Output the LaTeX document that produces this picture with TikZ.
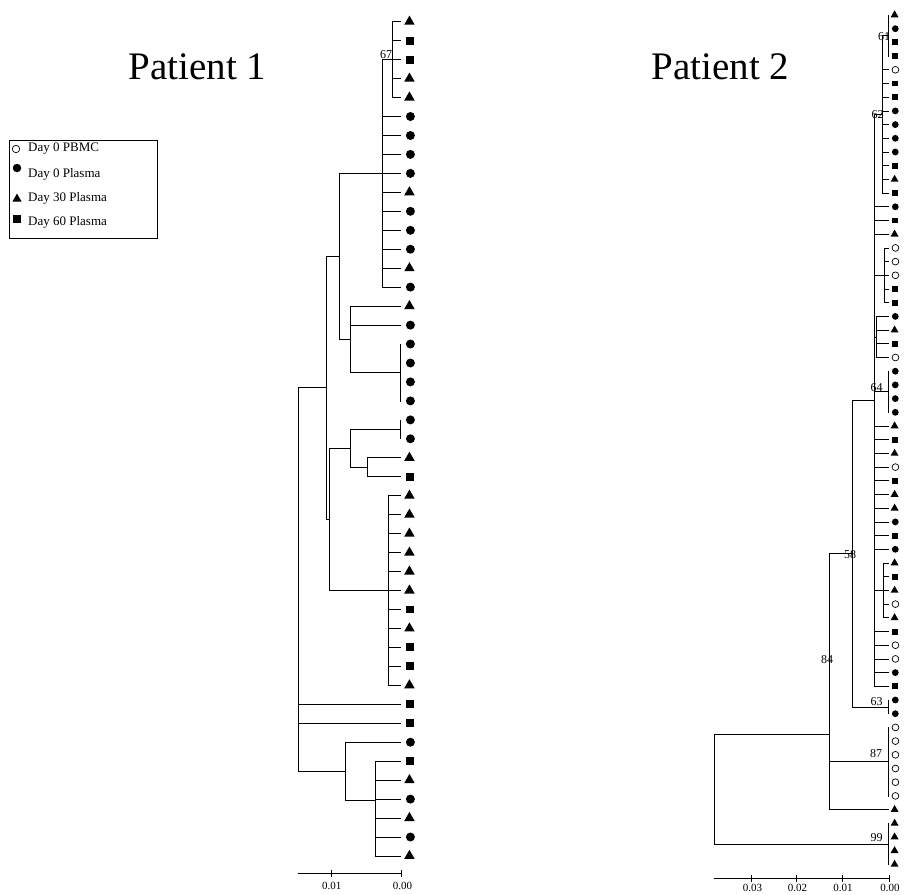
\documentclass[tikz,border=0pt]{standalone}
\usepackage{fontspec}
\setmainfont{Liberation Serif}
\usetikzlibrary{shapes.geometric}

\begin{document}
\begin{tikzpicture}
[every node/.style={inner sep=0pt},
 branch/.style={line width=0.75pt, color=black},
 pbmc/.style={circle, minimum size=#1, fill=white, line width=0.7pt, draw=black},
 day0/.style={circle, minimum size=#1, fill=black},
 day30/.style={regular polygon, regular polygon sides=3, minimum size=1.35*#1, fill=black},
 day60/.style={rectangle, minimum size=0.88*#1, fill=black},
 leafA/.style={label={[#1=9pt, label distance=3.5pt]right:}},
 leafB/.style={label={[#1=6.8pt, label distance=1.5pt]right:}},
 boot/.style={font=\fontsize{12pt}{12pt}\selectfont},
 title/.style={anchor=base, font=\fontsize{39pt}{39pt}\selectfont},
 keytext/.style={anchor=west, font=\fontsize{13pt}{13pt}\selectfont},
 scaletext/.style={font=\fontsize{11pt}{11pt}\selectfont}]
\path [use as bounding box, fill=white] (0pt, 0pt) rectangle (906pt, -895pt);
\node (title1) [title] at (197.5pt, -79pt) {Patient 1};
\node (title2) [title] at (720.5pt, -79pt) {Patient 2};
\node (key) [draw=black, line width=0.7pt, minimum width=148pt, minimum height=98pt] at (83pt, -189pt) {};
\node (k1) [pbmc=7.5pt] at (16pt, -149pt) {};
\node (k2) [day0=8.5pt] at (17pt, -168pt) {};
\node (k3) [day30=8pt] at (17pt, -199pt) {};
\node (k4) [day60=8.5pt] at (17pt, -219pt) {};
\node (w1) [keytext] at (28pt, -149pt) {Day 0 PBMC};
\node (w2) [keytext] at (28pt, -174pt) {Day 0 Plasma};
\node (w3) [keytext] at (28pt, -198pt) {Day 30 Plasma};
\node (w4) [keytext] at (28pt, -222pt) {Day 60 Plasma};
\node (a1) [leafA=day30] at (401.5pt, -21.7pt) {};
\node (a2) [leafA=day60] at (401.5pt, -40.7pt) {};
\node (a3) [leafA=day60] at (401.5pt, -59.6pt) {};
\node (a4) [leafA=day30] at (401.5pt, -78.6pt) {};
\node (a5) [leafA=day30] at (401.5pt, -97.5pt) {};
\node (a6) [leafA=day0] at (401.5pt, -116.5pt) {};
\node (a7) [leafA=day0] at (401.5pt, -135.5pt) {};
\node (a8) [leafA=day0] at (401.5pt, -154.4pt) {};
\node (a9) [leafA=day0] at (401.5pt, -173.4pt) {};
\node (a10) [leafA=day30] at (401.5pt, -192.3pt) {};
\node (a11) [leafA=day0] at (401.5pt, -211.3pt) {};
\node (a12) [leafA=day0] at (401.5pt, -230.3pt) {};
\node (a13) [leafA=day0] at (401.5pt, -249.2pt) {};
\node (a14) [leafA=day30] at (401.5pt, -268.2pt) {};
\node (a15) [leafA=day0] at (401.5pt, -287.1pt) {};
\node (a16) [leafA=day30] at (401.5pt, -306.1pt) {};
\node (a17) [leafA=day0] at (401.5pt, -325.1pt) {};
\node (a18) [leafA=day0] at (401.5pt, -344.0pt) {};
\node (a19) [leafA=day0] at (401.5pt, -363.0pt) {};
\node (a20) [leafA=day0] at (401.5pt, -381.9pt) {};
\node (a21) [leafA=day0] at (401.5pt, -400.9pt) {};
\node (a22) [leafA=day0] at (401.5pt, -419.9pt) {};
\node (a23) [leafA=day0] at (401.5pt, -438.8pt) {};
\node (a24) [leafA=day30] at (401.5pt, -457.8pt) {};
\node (a25) [leafA=day60] at (401.5pt, -476.7pt) {};
\node (a26) [leafA=day30] at (401.5pt, -495.7pt) {};
\node (a27) [leafA=day30] at (401.5pt, -514.7pt) {};
\node (a28) [leafA=day30] at (401.5pt, -533.6pt) {};
\node (a29) [leafA=day30] at (401.5pt, -552.6pt) {};
\node (a30) [leafA=day30] at (401.5pt, -571.5pt) {};
\node (a31) [leafA=day30] at (401.5pt, -590.5pt) {};
\node (a32) [leafA=day60] at (401.5pt, -609.5pt) {};
\node (a33) [leafA=day30] at (401.5pt, -628.4pt) {};
\node (a34) [leafA=day60] at (401.5pt, -647.4pt) {};
\node (a35) [leafA=day60] at (401.5pt, -666.3pt) {};
\node (a36) [leafA=day30] at (401.5pt, -685.3pt) {};
\node (a37) [leafA=day60] at (401.5pt, -704.3pt) {};
\node (a38) [leafA=day60] at (401.5pt, -723.2pt) {};
\node (a39) [leafA=day0] at (401.5pt, -742.2pt) {};
\node (a40) [leafA=day60] at (401.5pt, -761.1pt) {};
\node (a41) [leafA=day30] at (401.5pt, -780.1pt) {};
\node (a42) [leafA=day0] at (401.5pt, -799.1pt) {};
\node (a43) [leafA=day30] at (401.5pt, -818.0pt) {};
\node (a44) [leafA=day0] at (401.5pt, -837.0pt) {};
\node (a45) [leafA=day30] at (401.5pt, -855.9pt) {};
\coordinate (r1) at (298pt, -387.8pt);
\coordinate (u1) at (326pt, -387.8pt);
\coordinate (u2) at (339pt, -256.4pt);
\coordinate (u3) at (382pt, -173.4pt);
\coordinate (n67) at (392pt, -59.6pt);
\coordinate (u4) at (350.7pt, -339.3pt);
\coordinate (u5) at (400pt, -372.5pt);
\coordinate (u6) at (329pt, -519.4pt);
\coordinate (u7) at (350.7pt, -448.3pt);
\coordinate (u8) at (400pt, -429.4pt);
\coordinate (u9) at (367.7pt, -467.3pt);
\coordinate (u10) at (388.3pt, -590.5pt);
\coordinate (u11) at (345pt, -771.5pt);
\coordinate (u12) at (375pt, -800pt);
\draw [branch] (r1) |- (u1);
\draw [branch] (r1) |- (a37);
\draw [branch] (r1) |- (a38);
\draw [branch] (r1) |- (u11);
\draw [branch] (u1) |- (u2);
\draw [branch] (u1) |- (u6);
\draw [branch] (u2) |- (u3);
\draw [branch] (u2) |- (u4);
\draw [branch] (u3) |- (n67);
\draw [branch] (u3) |- (a6);
\draw [branch] (u3) |- (a7);
\draw [branch] (u3) |- (a8);
\draw [branch] (u3) |- (a9);
\draw [branch] (u3) |- (a10);
\draw [branch] (u3) |- (a11);
\draw [branch] (u3) |- (a12);
\draw [branch] (u3) |- (a13);
\draw [branch] (u3) |- (a14);
\draw [branch] (u3) |- (a15);
\draw [branch] (n67) |- (a1);
\draw [branch] (n67) |- (a2);
\draw [branch] (n67) |- (a3);
\draw [branch] (n67) |- (a4);
\draw [branch] (n67) |- (a5);
\draw [branch] (u4) |- (a16);
\draw [branch] (u4) |- (a17);
\draw [branch] (u4) |- (u5);
\draw [branch] (u5) |- (a18);
\draw [branch] (u5) |- (a19);
\draw [branch] (u5) |- (a20);
\draw [branch] (u5) |- (a21);
\draw [branch] (u6) |- (u7);
\draw [branch] (u6) |- (u10);
\draw [branch] (u7) |- (u8);
\draw [branch] (u7) |- (u9);
\draw [branch] (u8) |- (a22);
\draw [branch] (u8) |- (a23);
\draw [branch] (u9) |- (a24);
\draw [branch] (u9) |- (a25);
\draw [branch] (u10) |- (a26);
\draw [branch] (u10) |- (a27);
\draw [branch] (u10) |- (a28);
\draw [branch] (u10) |- (a29);
\draw [branch] (u10) |- (a30);
\draw [branch] (u10) |- (a31);
\draw [branch] (u10) |- (a32);
\draw [branch] (u10) |- (a33);
\draw [branch] (u10) |- (a34);
\draw [branch] (u10) |- (a35);
\draw [branch] (u10) |- (a36);
\draw [branch] (u11) |- (a39);
\draw [branch] (u11) |- (u12);
\draw [branch] (u12) |- (a40);
\draw [branch] (u12) |- (a41);
\draw [branch] (u12) |- (a42);
\draw [branch] (u12) |- (a43);
\draw [branch] (u12) |- (a44);
\draw [branch] (u12) |- (a45);
\node (t67) [boot] at (386pt, -55pt) {67};
\coordinate (sa0) at (298pt, -873pt);
\coordinate (sa1) at (331.7pt, -873pt);
\coordinate (sa2) at (401.5pt, -873pt);
\draw [branch] (sa0) -- (sa2);
\draw [branch] ([yshift=3.5pt]sa1) -- ([yshift=-3.5pt]sa1);
\draw [branch] ([yshift=3.5pt]sa2) -- ([yshift=-3.5pt]sa2);
\node (va1) [scaletext] at (331.7pt, -886pt) {0.01};
\node (va2) [scaletext] at (402.5pt, -886pt) {0.00};
\node (b1) [leafB=day30] at (889.5pt, -15.0pt) {};
\node (b2) [leafB=day0] at (889.5pt, -28.7pt) {};
\node (b3) [leafB=day60] at (889.5pt, -42.4pt) {};
\node (b4) [leafB=day60] at (889.5pt, -56.1pt) {};
\node (b5) [leafB=pbmc] at (889.5pt, -69.8pt) {};
\node (b6) [leafB=day60] at (889.5pt, -83.5pt) {};
\node (b7) [leafB=day60] at (889.5pt, -97.2pt) {};
\node (b8) [leafB=day0] at (889.5pt, -110.9pt) {};
\node (b9) [leafB=day0] at (889.5pt, -124.6pt) {};
\node (b10) [leafB=day0] at (889.5pt, -138.3pt) {};
\node (b11) [leafB=day0] at (889.5pt, -152.0pt) {};
\node (b12) [leafB=day60] at (889.5pt, -165.7pt) {};
\node (b13) [leafB=day30] at (889.5pt, -179.4pt) {};
\node (b14) [leafB=day60] at (889.5pt, -193.1pt) {};
\node (b15) [leafB=day0] at (889.5pt, -206.8pt) {};
\node (b16) [leafB=day60] at (889.5pt, -220.5pt) {};
\node (b17) [leafB=day30] at (889.5pt, -234.2pt) {};
\node (b18) [leafB=pbmc] at (889.5pt, -247.9pt) {};
\node (b19) [leafB=pbmc] at (889.5pt, -261.6pt) {};
\node (b20) [leafB=pbmc] at (889.5pt, -275.3pt) {};
\node (b21) [leafB=day60] at (889.5pt, -289.0pt) {};
\node (b22) [leafB=day60] at (889.5pt, -302.7pt) {};
\node (b23) [leafB=day0] at (889.5pt, -316.4pt) {};
\node (b24) [leafB=day30] at (889.5pt, -330.1pt) {};
\node (b25) [leafB=day60] at (889.5pt, -343.8pt) {};
\node (b26) [leafB=pbmc] at (889.5pt, -357.5pt) {};
\node (b27) [leafB=day0] at (889.5pt, -371.2pt) {};
\node (b28) [leafB=day0] at (889.5pt, -384.9pt) {};
\node (b29) [leafB=day0] at (889.5pt, -398.6pt) {};
\node (b30) [leafB=day0] at (889.5pt, -412.3pt) {};
\node (b31) [leafB=day30] at (889.5pt, -426.0pt) {};
\node (b32) [leafB=day60] at (889.5pt, -439.7pt) {};
\node (b33) [leafB=day30] at (889.5pt, -453.4pt) {};
\node (b34) [leafB=pbmc] at (889.5pt, -467.1pt) {};
\node (b35) [leafB=day60] at (889.5pt, -480.8pt) {};
\node (b36) [leafB=day30] at (889.5pt, -494.5pt) {};
\node (b37) [leafB=day30] at (889.5pt, -508.2pt) {};
\node (b38) [leafB=day0] at (889.5pt, -521.9pt) {};
\node (b39) [leafB=day60] at (889.5pt, -535.6pt) {};
\node (b40) [leafB=day0] at (889.5pt, -549.3pt) {};
\node (b41) [leafB=day30] at (889.5pt, -563.0pt) {};
\node (b42) [leafB=day60] at (889.5pt, -576.7pt) {};
\node (b43) [leafB=day30] at (889.5pt, -590.4pt) {};
\node (b44) [leafB=pbmc] at (889.5pt, -604.1pt) {};
\node (b45) [leafB=day30] at (889.5pt, -617.8pt) {};
\node (b46) [leafB=day60] at (889.5pt, -631.5pt) {};
\node (b47) [leafB=pbmc] at (889.5pt, -645.2pt) {};
\node (b48) [leafB=pbmc] at (889.5pt, -658.9pt) {};
\node (b49) [leafB=day0] at (889.5pt, -672.6pt) {};
\node (b50) [leafB=day60] at (889.5pt, -686.3pt) {};
\node (b51) [leafB=day0] at (889.5pt, -700.0pt) {};
\node (b52) [leafB=day0] at (889.5pt, -713.7pt) {};
\node (b53) [leafB=pbmc] at (889.5pt, -727.4pt) {};
\node (b54) [leafB=pbmc] at (889.5pt, -741.1pt) {};
\node (b55) [leafB=pbmc] at (889.5pt, -754.8pt) {};
\node (b56) [leafB=pbmc] at (889.5pt, -768.5pt) {};
\node (b57) [leafB=pbmc] at (889.5pt, -782.2pt) {};
\node (b58) [leafB=pbmc] at (889.5pt, -795.9pt) {};
\node (b59) [leafB=day30] at (889.5pt, -809.6pt) {};
\node (b60) [leafB=day30] at (889.5pt, -823.3pt) {};
\node (b61) [leafB=day30] at (889.5pt, -837.0pt) {};
\node (b62) [leafB=day30] at (889.5pt, -850.7pt) {};
\node (b63) [leafB=day30] at (889.5pt, -864.4pt) {};
\coordinate (r2) at (714pt, -734pt);
\coordinate (n84) at (829pt, -734pt);
\coordinate (n58) at (852pt, -553.6pt);
\coordinate (v4) at (874pt, -400.3pt);
\coordinate (n62) at (882.5pt, -114.3pt);
\coordinate (n61) at (888pt, -35.6pt);
\coordinate (v1) at (884pt, -275.3pt);
\coordinate (v2) at (876.5pt, -337pt);
\coordinate (n64) at (888pt, -391.8pt);
\coordinate (v3) at (883.7pt, -590.4pt);
\coordinate (n63) at (888pt, -706.9pt);
\coordinate (n87) at (888pt, -761.7pt);
\coordinate (n99) at (888pt, -843.9pt);
\draw [branch] (r2) |- (n84);
\draw [branch] (r2) |- (n99);
\draw [branch] (n84) |- (n58);
\draw [branch] (n84) |- (n87);
\draw [branch] (n84) |- (b59);
\draw [branch] (n58) |- (v4);
\draw [branch] (n58) |- (n63);
\draw [branch] (v4) |- (n62);
\draw [branch] (v4) |- (b15);
\draw [branch] (v4) |- (b16);
\draw [branch] (v4) |- (b17);
\draw [branch] (v4) |- (v1);
\draw [branch] (v4) |- (v2);
\draw [branch] (v4) |- (n64);
\draw [branch] (v4) |- (b31);
\draw [branch] (v4) |- (b32);
\draw [branch] (v4) |- (b33);
\draw [branch] (v4) |- (b34);
\draw [branch] (v4) |- (b35);
\draw [branch] (v4) |- (b36);
\draw [branch] (v4) |- (b37);
\draw [branch] (v4) |- (b38);
\draw [branch] (v4) |- (b39);
\draw [branch] (v4) |- (b40);
\draw [branch] (v4) |- (v3);
\draw [branch] (v4) |- (b46);
\draw [branch] (v4) |- (b47);
\draw [branch] (v4) |- (b48);
\draw [branch] (v4) |- (b49);
\draw [branch] (v4) |- (b50);
\draw [branch] (n62) |- (n61);
\draw [branch] (n62) |- (b5);
\draw [branch] (n62) |- (b6);
\draw [branch] (n62) |- (b7);
\draw [branch] (n62) |- (b8);
\draw [branch] (n62) |- (b9);
\draw [branch] (n62) |- (b10);
\draw [branch] (n62) |- (b11);
\draw [branch] (n62) |- (b12);
\draw [branch] (n62) |- (b13);
\draw [branch] (n62) |- (b14);
\draw [branch] (n61) |- (b1);
\draw [branch] (n61) |- (b2);
\draw [branch] (n61) |- (b3);
\draw [branch] (n61) |- (b4);
\draw [branch] (v1) |- (b18);
\draw [branch] (v1) |- (b19);
\draw [branch] (v1) |- (b20);
\draw [branch] (v1) |- (b21);
\draw [branch] (v1) |- (b22);
\draw [branch] (v2) |- (b23);
\draw [branch] (v2) |- (b24);
\draw [branch] (v2) |- (b25);
\draw [branch] (v2) |- (b26);
\draw [branch] (n64) |- (b27);
\draw [branch] (n64) |- (b28);
\draw [branch] (n64) |- (b29);
\draw [branch] (n64) |- (b30);
\draw [branch] (v3) |- (b41);
\draw [branch] (v3) |- (b42);
\draw [branch] (v3) |- (b43);
\draw [branch] (v3) |- (b44);
\draw [branch] (v3) |- (b45);
\draw [branch] (n63) |- (b51);
\draw [branch] (n63) |- (b52);
\draw [branch] (n87) |- (b53);
\draw [branch] (n87) |- (b54);
\draw [branch] (n87) |- (b55);
\draw [branch] (n87) |- (b56);
\draw [branch] (n87) |- (b57);
\draw [branch] (n87) |- (b58);
\draw [branch] (n99) |- (b60);
\draw [branch] (n99) |- (b61);
\draw [branch] (n99) |- (b62);
\draw [branch] (n99) |- (b63);
\node (t61) [boot] at (884pt, -37pt) {61};
\node (t62) [boot] at (877.5pt, -115pt) {62};
\node (t64) [boot] at (876.5pt, -388pt) {64};
\node (t58) [boot] at (850pt, -555pt) {58};
\node (t84) [boot] at (827pt, -660pt) {84};
\node (t63) [boot] at (876.5pt, -702pt) {63};
\node (t87) [boot] at (876pt, -754pt) {87};
\node (t99) [boot] at (876.5pt, -838pt) {99};
\coordinate (sb0) at (714pt, -878pt);
\coordinate (sb1) at (751.7pt, -878pt);
\coordinate (sb2) at (796.7pt, -878pt);
\coordinate (sb3) at (842.7pt, -878pt);
\coordinate (sb4) at (889.5pt, -878pt);
\draw [branch] (sb0) -- (sb4);
\draw [branch] ([yshift=3.5pt]sb1) -- ([yshift=-3.5pt]sb1);
\draw [branch] ([yshift=3.5pt]sb2) -- ([yshift=-3.5pt]sb2);
\draw [branch] ([yshift=3.5pt]sb3) -- ([yshift=-3.5pt]sb3);
\draw [branch] ([yshift=3.5pt]sb4) -- ([yshift=-3.5pt]sb4);
\node (vb1) [scaletext] at (752.5pt, -888pt) {0.03};
\node (vb2) [scaletext] at (797.5pt, -888pt) {0.02};
\node (vb3) [scaletext] at (843pt, -888pt) {0.01};
\node (vb4) [scaletext] at (890pt, -888pt) {0.00};
\end{tikzpicture}
\end{document}
